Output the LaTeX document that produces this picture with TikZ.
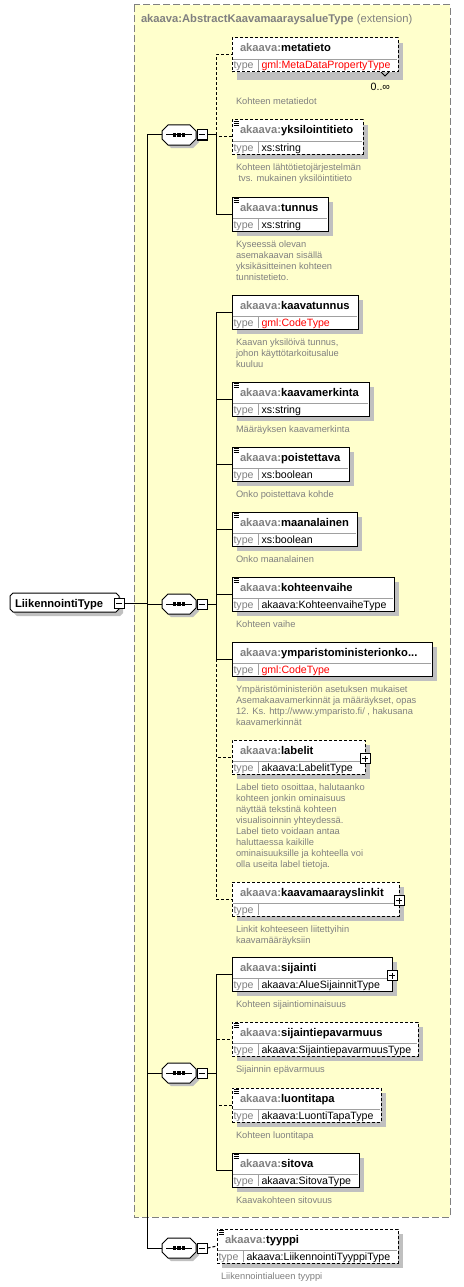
\documentclass[tikz,border=0pt]{standalone}
\usepackage{fontspec}
\setmainfont{Liberation Sans}
\definecolor{bgyellow}{HTML}{FFFFCC}
\definecolor{pgray}{HTML}{808080}
\definecolor{shgray}{HTML}{C0C0C0}
\definecolor{divgray}{HTML}{A0A0A0}
\definecolor{bordergray}{HTML}{808080}
\newcommand{\nf}{\fontsize{11.2}{13}\selectfont\bfseries}
\newcommand{\tf}{\fontsize{10.6}{12}\selectfont}
\newcommand{\df}{\fontsize{9.3}{11}\selectfont}
\tikzset{
  elbox/.style={draw=black, fill=white, line width=1pt, inner sep=0pt, outer sep=0pt, minimum height=34pt, anchor=north west},
  optbox/.style={elbox, dash pattern=on 3pt off 2pt},
  conn/.style={line width=1pt},
  optconn/.style={line width=1pt, dash pattern=on 3pt off 2pt},
  txt/.style={inner sep=0pt, outer sep=0pt, anchor=base west},
  pbox/.style={draw=black, fill=white, line width=1pt, minimum size=10pt, inner sep=0pt,
    path picture={\draw[line width=1pt] ([xshift=2pt]path picture bounding box.west) -- ([xshift=-2pt]path picture bounding box.east);
                  \draw[line width=1pt] ([yshift=-2pt]path picture bounding box.north) -- ([yshift=2pt]path picture bounding box.south);}},
  mbox/.style={draw=black, fill=white, line width=1pt, minimum size=10pt, inner sep=0pt,
    path picture={\draw[line width=1pt] ([xshift=2pt]path picture bounding box.west) -- ([xshift=-2pt]path picture bounding box.east);}},
  hook/.style={inner sep=0pt, outer sep=0pt}
}
% #1 style, #2 node name, #3 x, #4 y (top), #5 width, #6 element name, #7 type
\newcommand{\elem}[7][elbox]{%
  \fill[shgray] (#3+5,#4+5) rectangle (#3+#5+5,#4+39);
  \node[#1, minimum width=#5pt] (#2) at (#3,#4) {};
  \draw[divgray, line width=0.8pt] (#3+0.6,#4+21) -- (#3+#5-0.6,#4+21);
  \draw[divgray, line width=0.8pt] (#3+26,#4+21) -- (#3+26,#4+33.4);
  \node[txt, font=\nf] (#2n) at (#3+8,#4+14) {\textcolor{pgray}{akaava:}#6};
  \node[txt, font=\tf, text=pgray] (#2tl) at (#3+1.5,#4+31) {type};
  \node[txt, font=\tf] (#2tv) at (#3+29.5,#4+31) {#7};
}
\newcommand{\icon}[1]{%
  \foreach \d in {1.5,3.5,5.5}
    \draw[line width=0.9pt] ([xshift=1.5pt,yshift=-\d pt]#1.north west) -- ++(5pt,0);
}
\newcommand{\plusb}[1]{\node[pbox] (#1p) at ([yshift=-18.5pt]#1.north east) {};}
% #1 name, #2 x, #3 baseline, #4 lines
\newcommand{\desc}[4]{\node[txt, font=\df, text=pgray] (#1) at (#2,#3) {\begin{tabular}[t]{@{}l@{}}#4\end{tabular}};}
% sequence symbol: #1 name, #2 centre y
\newcommand{\seqsym}[2]{%
  \fill[shgray] (171,#2-7) -- (193,#2-7) -- (199,#2-1) -- (199,#2+7) -- (193,#2+13) -- (171,#2+13) -- (165,#2+7) -- (165,#2-1) -- cycle;
  \draw[fill=white, line width=1pt] (168,#2-10) -- (190,#2-10) -- (196,#2-4) -- (196,#2+4) -- (190,#2+10) -- (168,#2+10) -- (162,#2+4) -- (162,#2-4) -- cycle;
  \node[hook, minimum width=34pt, minimum height=20pt] (#1) at (179,#2) {};
  \draw[line width=1pt] ([xshift=4pt]#1.west) -- ([xshift=-4pt]#1.east);
  \foreach \dx in {-4.5,0,4.5} \fill ([xshift=\dx pt]#1.center) +(-1.6pt,-1.6pt) rectangle +(1.6pt,1.6pt);
  \node[mbox] (#1m) at (202,#2) {};
}
\begin{document}
\begin{tikzpicture}[x=1pt,y=-1pt]
\useasboundingbox (0,0) rectangle (463,1287);
\fill[white] (0,0) rectangle (463,1287);
% extension container
\draw[fill=bgyellow, draw=bordergray, line width=1pt, dash pattern=on 7pt off 3pt] (134,5) rectangle (450,1217);
\node[txt, font=\nf, text=pgray] (title) at (141,22.5) {akaava:AbstractKaavamaaraysalueType \textmd{(extension)}};

% main element
\fill[shgray] (17,597) -- (120,597) -- (123,600) -- (123,613) -- (120,616) -- (17,616) -- (14,613) -- (14,600) -- cycle;
\draw[fill=white, line width=1pt] (13,593) -- (116,593) -- (119,596) -- (119,609) -- (116,612) -- (13,612) -- (10,609) -- (10,596) -- cycle;
\node[hook, minimum width=109pt, minimum height=19pt] (main) at (64.5,602.5) {};
\node[txt, font=\nf] (mainlabel) at (15,607.5) {LiikennointiType};
\node[mbox] (mainm) at (119,603) {};

% sequences
\seqsym{s1}{135}
\seqsym{s2}{604}
\seqsym{s3}{1073}
\seqsym{s4}{1248}

\coordinate (bus) at (147,603);
\coordinate (b1) at (216,135);
\coordinate (b2) at (216,604);
\coordinate (b3) at (216,1073);

% elements of sequence 1
\fill[shgray] (237,43) rectangle (403,80);
\elem[optbox]{metatieto}{232}{38}{166}{metatieto}{\textcolor{red}{gml:MetaDataPropertyType}}
\draw[line width=0.8pt] (381,72) -- (385,76) -- (389,72);
\node[txt, font=\tf, anchor=base east] (occ) at (390,91) {0..∞};
\desc{d1}{236}{105}{Kohteen metatiedot}

\elem[optbox]{yksilointitieto}{232}{120}{131}{yksilointitieto}{xs:string}
\icon{yksilointitieto}
\desc{d2}{236}{170}{Kohteen lähtötietojärjestelmän\\\hspace{2.6pt}tvs. mukainen yksilöintitieto}

\elem{tunnus}{232}{197}{96}{tunnus}{xs:string}
\icon{tunnus}
\desc{d3}{236}{247}{Kyseessä olevan\\asemakaavan sisällä\\yksikäsitteinen kohteen\\tunnistetieto.}

% elements of sequence 2
\elem{kaavatunnus}{232}{295}{126}{kaavatunnus}{\textcolor{red}{gml:CodeType}}
\desc{d4}{236}{345.5}{Kaavan yksilöivä tunnus,\\johon käyttötarkoitusalue\\kuuluu}

\elem{kaavamerkinta}{232}{382}{137}{kaavamerkinta}{xs:string}
\icon{kaavamerkinta}
\desc{d5}{236}{432}{Määräyksen kaavamerkinta}

\elem{poistettava}{232}{447}{117}{poistettava}{xs:boolean}
\icon{poistettava}
\desc{d6}{236}{497}{Onko poistettava kohde}

\elem{maanalainen}{232}{512}{125}{maanalainen}{xs:boolean}
\icon{maanalainen}
\desc{d7}{236}{562}{Onko maanalainen}

\elem{kohteenvaihe}{232}{577}{162}{kohteenvaihe}{akaava:KohteenvaiheType}
\icon{kohteenvaihe}
\desc{d8}{236}{627}{Kohteen vaihe}

\elem{ymparisto}{232}{642}{200}{ymparistoministerionko...}{\textcolor{red}{gml:CodeType}}
\desc{d9}{236}{692}{Ympäristöministeriön asetuksen mukaiset\\Asemakaavamerkinnät ja määräykset, opas\\12. Ks. http://www.ymparisto.fi/ , hakusana\\kaavamerkinnät}

\elem[optbox]{labelit}{232}{740}{133}{labelit}{akaava:LabelitType}
\plusb{labelit}
\desc{d10}{236}{790}{Label tieto osoittaa, halutaanko\\kohteen jonkin ominaisuus\\näyttää tekstinä kohteen\\visualisoinnin yhteydessä.\\Label tieto voidaan antaa\\haluttaessa kaikille\\ominaisuuksille ja kohteella voi\\olla useita label tietoja.}

\elem[optbox]{linkit}{232}{882}{167}{kaavamaarayslinkit}{}
\plusb{linkit}
\desc{d11}{236}{932}{Linkit kohteeseen liitettyihin\\kaavamääräyksiin}

% elements of sequence 3
\elem{sijainti}{232}{957}{160}{sijainti}{akaava:AlueSijainnitType}
\plusb{sijainti}
\desc{d12}{236}{1007}{Kohteen sijaintiominaisuus}

\elem[optbox]{epavarmuus}{232}{1022}{186}{sijaintiepavarmuus}{akaava:SijaintiepavarmuusType}
\icon{epavarmuus}
\desc{d13}{236}{1072}{Sijainnin epävarmuus}

\elem[optbox]{luontitapa}{232}{1088}{149}{luontitapa}{akaava:LuontiTapaType}
\icon{luontitapa}
\desc{d14}{236}{1138}{Kohteen luontitapa}

\elem{sitova}{232}{1153}{127}{sitova}{akaava:SitovaType}
\icon{sitova}
\desc{d15}{236}{1203}{Kaavakohteen sitovuus}

% sequence 4 element
\elem[optbox]{tyyppi}{217}{1229}{181}{tyyppi}{akaava:LiikennointiTyyppiType}
\icon{tyyppi}
\desc{d16}{221}{1279}{Liikennointialueen tyyppi}

% connectors
\draw[conn] (mainm.east) -- (bus);
\draw[conn] (bus |- s1.west) -- (bus |- s4.west);
\foreach \s in {s1,s2,s3,s4} \draw[conn] (bus |- \s.west) -- (\s.west);
\draw[conn] (s1m.east) -- (b1);
\draw[conn] (s2m.east) -- (b2);
\draw[conn] (s3m.east) -- (b3);
\draw[optconn] (b1) |- (metatieto.west);
\draw[optconn] (b1) |- (yksilointitieto.west);
\draw[conn] (b1) |- (tunnus.west);
\draw[optconn] (b2) |- (labelit.west);
\draw[optconn] (b2) |- (linkit.west);
\foreach \e in {kaavatunnus,kaavamerkinta,poistettava,maanalainen,kohteenvaihe,ymparisto}
  \draw[conn] (b2) |- (\e.west);
\draw[optconn] (b3) |- (epavarmuus.west);
\draw[optconn] (b3) |- (luontitapa.west);
\draw[conn] (b3) |- (sijainti.west);
\draw[conn] (b3) |- (sitova.west);
\draw[optconn] (s4m.east) -- (tyyppi.west);
\end{tikzpicture}
\end{document}
